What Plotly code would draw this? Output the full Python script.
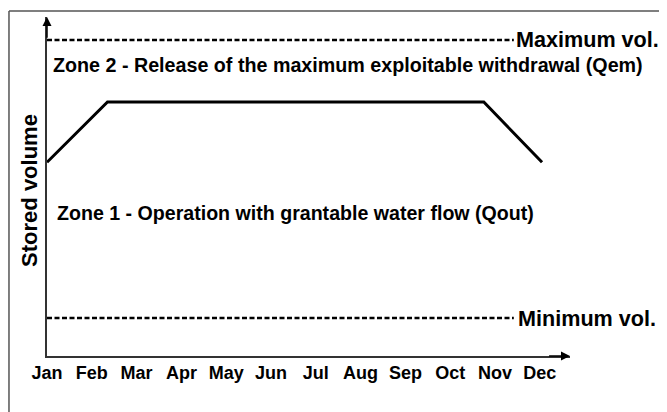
import plotly.graph_objects as go

months = ["Jan", "Feb", "Mar", "Apr", "May", "Jun", "Jul", "Aug", "Sep", "Oct", "Nov", "Dec"]
month_pos = list(range(12))

# rule curve (x in months from Jan, y in % between min and max vol.)
curve_x = [0, 1.35, 9.75, 11.05]
curve_y = [56, 77.7, 77.7, 56]

max_vol = 100
min_vol = 0
dash_end = 10.42

FONT = "Liberation Sans, Arial"

fig = go.Figure()

fig.add_trace(go.Scatter(x=curve_x, y=curve_y, mode="lines",
                         line=dict(color="black", width=3), hoverinfo="skip"))

for v in [max_vol, min_vol]:
    fig.add_trace(go.Scatter(x=[0, dash_end], y=[v, v], mode="lines",
                             line=dict(color="black", width=2.5, dash="5px,2.5px"),
                             hoverinfo="skip"))

xmax = 11.674
ymin, ymax = -13.67, 108.27

anns = [
    dict(x=dash_end, y=max_vol, text="<b>Maximum vol.</b>", xanchor="left", xshift=0,
         font=dict(size=21.6)),
    dict(x=dash_end, y=min_vol, text="<b>Minimum vol.</b>", xanchor="left", xshift=2,
         font=dict(size=21.6)),
    dict(x=0.1, y=91, text="<b>Zone 2 - Release of the maximum exploitable withdrawal (Qem)</b>",
         xanchor="left", font=dict(size=19.7)),
    dict(x=0.17, y=37.8, text="<b>Zone 1 - Operation with grantable water flow (Qout)</b>",
         xanchor="left", font=dict(size=19.6)),
]
for a in anns:
    a.update(xref="x", yref="y", showarrow=False)
    a["font"].update(family=FONT, color="black")
    fig.add_annotation(**a)

# y title
fig.add_annotation(xref="paper", yref="paper", x=-0.0325, y=0.487, text="<b>Stored volume</b>",
                   textangle=-90, showarrow=False, xanchor="center", yanchor="middle",
                   font=dict(family=FONT, size=22, color="black"))

# arrow heads of both axes
fig.add_annotation(x=xmax, y=ymin, ax=xmax - 0.5, ay=ymin, xref="x", yref="y", axref="x", ayref="y",
                   text="", showarrow=True, arrowhead=2, arrowsize=1.2, arrowwidth=1.5, arrowcolor="black")
fig.add_annotation(x=0, y=ymax, ax=0, ay=ymax - 8, xref="x", yref="y", axref="x", ayref="y",
                   text="", showarrow=True, arrowhead=2, arrowsize=1.2, arrowwidth=1.5, arrowcolor="black")

# outer frame (open at the bottom)
x0, x1, y0, y1 = -0.0727, 1.1836, -0.3, 1.0177
frame = dict(type="line", xref="paper", yref="paper", line=dict(color="#555555", width=1.5))
fig.add_shape(x0=x0, x1=x0, y0=y0, y1=y1, **frame)
fig.add_shape(x0=x0, x1=x1, y0=y1, y1=y1, **frame)
fig.add_shape(x0=x1, x1=x1, y0=y0, y1=y1, **frame)

# page body has an 8px margin, so the figure is 8px smaller than the window
fig.update_layout(
    width=659, height=404,
    margin=dict(l=39, r=97, t=9, b=56),
    plot_bgcolor="white", paper_bgcolor="white",
    showlegend=False,
    xaxis=dict(range=[0, xmax], tickvals=month_pos, ticktext=["<b>%s</b>" % m for m in months],
               showgrid=False, zeroline=False, showline=True, linecolor="#333333", linewidth=1.5,
               tickfont=dict(family=FONT, size=18, color="black"), ticks="", ticklabelstandoff=0),
    yaxis=dict(range=[ymin, ymax], showticklabels=False, showgrid=False, zeroline=False,
               showline=True, linecolor="#333333", linewidth=1.5, ticks=""),
)

fig.write_html("out.html")
